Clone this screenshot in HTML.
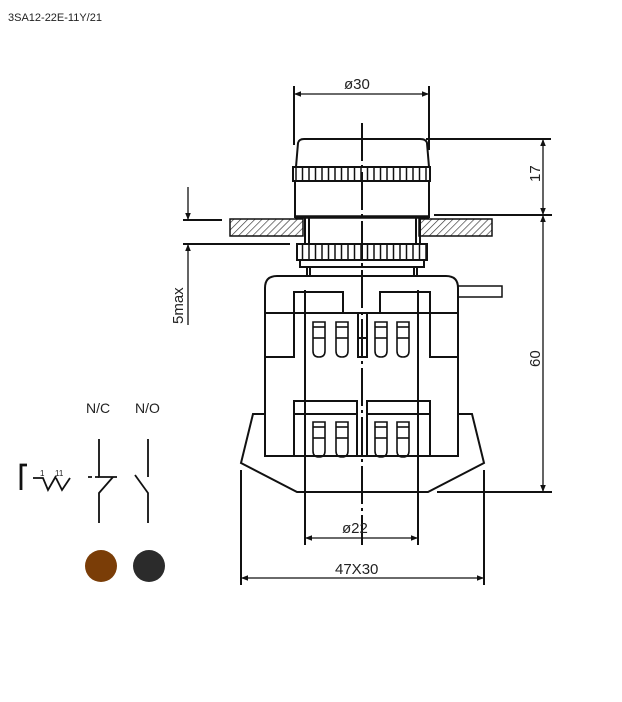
<!DOCTYPE html>
<html><head><meta charset="utf-8"><style>
body{margin:0;background:#fff}
svg{display:block}
text{font-family:"Liberation Sans",sans-serif;fill:#222}
</style></head><body>
<svg width="622" height="702" viewBox="0 0 622 702" xmlns="http://www.w3.org/2000/svg">
<defs>
<pattern id="hatch" width="5" height="5" patternUnits="userSpaceOnUse" patternTransform="rotate(45)">
<line x1="0" y1="0" x2="0" y2="5" stroke="#333" stroke-width="1.3"/>
</pattern>
<pattern id="knurl" x="293" width="6.5" height="20" patternUnits="userSpaceOnUse">
<line x1="3" y1="0" x2="3" y2="20" stroke="#111" stroke-width="1.5"/>
</pattern>
<marker id="ar" viewBox="0 0 10 10" refX="10" refY="5" markerWidth="14" markerHeight="7" orient="auto-start-reverse" markerUnits="userSpaceOnUse">
<path d="M0,1 L10,5 L0,9 z" fill="#111"/>
</marker>
</defs>
<text x="8" y="21" font-size="11">3SA12-22E-11Y/21</text>

<g fill="none" stroke="#111" stroke-width="2">
<path d="M296,167 L298,143 Q299,139 304,139 L420,139 Q426,139 427,143 L429,167"/>
<rect x="293" y="167" width="137" height="14" fill="url(#knurl)"/>
<path d="M295,181 L295,217 L429,217 L429,181"/>
<line x1="295" y1="217" x2="429" y2="217" stroke-width="3.5"/>
<rect x="230" y="219" width="73" height="17" fill="url(#hatch)" stroke-width="1.5"/>
<rect x="419" y="219" width="73" height="17" fill="url(#hatch)" stroke-width="1.5"/>
<line x1="305" y1="217" x2="305" y2="244"/><line x1="309" y1="217" x2="309" y2="244"/>
<line x1="416" y1="217" x2="416" y2="244"/><line x1="420" y1="217" x2="420" y2="244"/>
<rect x="297" y="244" width="130" height="16" fill="url(#knurl)"/>
<rect x="300" y="260" width="124" height="7"/>
<line x1="307" y1="267" x2="307" y2="276"/><line x1="310" y1="267" x2="310" y2="276"/>
<line x1="414" y1="267" x2="414" y2="276"/><line x1="417" y1="267" x2="417" y2="276"/>
<path d="M265,456 L265,288 Q265,276 277,276 L446,276 Q458,276 458,288 L458,456 Z"/>
<line x1="265" y1="313" x2="458" y2="313"/>
<path d="M265,357 L294,357 L294,292 L343,292 L343,313"/>
<path d="M458,357 L430,357 L430,292 L380,292 L380,313"/>
<rect x="458" y="286" width="44" height="11" stroke-width="1.5"/>
<rect x="358" y="313" width="9" height="44"/>
<line x1="358" y1="338" x2="367" y2="338"/>
<rect x="294" y="401" width="63" height="55"/><line x1="294" y1="414" x2="357" y2="414"/>
<rect x="367" y="401" width="63" height="55"/><line x1="367" y1="414" x2="430" y2="414"/>
<path d="M265,414 L253,414 L241,463 L297,492 L428,492 L484,463 L472,414 L458,414"/>
</g>
<g fill="none" stroke="#111" stroke-width="1.6">
<g id="slot"><path d="M313,322 L325,322 L325,351 Q325,357 319,357 Q313,357 313,351 Z"/><line x1="313" y1="327" x2="325" y2="327"/><line x1="313" y1="338" x2="325" y2="338"/></g>
<use href="#slot" x="23"/><use href="#slot" x="62"/><use href="#slot" x="84"/>
<use href="#slot" y="100"/><use href="#slot" x="23" y="100"/><use href="#slot" x="62" y="100"/><use href="#slot" x="84" y="100"/>
</g>
<g stroke="#111" stroke-width="2">
<line x1="305" y1="290" x2="305" y2="545"/>
<line x1="418" y1="290" x2="418" y2="545"/>
<line x1="362" y1="123" x2="362" y2="545" stroke-dasharray="38,4,3,4"/>
<line x1="294" y1="86" x2="294" y2="145"/>
<line x1="429" y1="86" x2="429" y2="150"/>
<line x1="426" y1="139" x2="551" y2="139"/>
<line x1="434" y1="215" x2="552" y2="215"/>
<line x1="437" y1="492" x2="552" y2="492"/>
<line x1="241" y1="470" x2="241" y2="585"/>
<line x1="484" y1="470" x2="484" y2="585"/>
<line x1="183" y1="220" x2="222" y2="220"/>
<line x1="183" y1="244" x2="290" y2="244"/>
</g>
<g stroke="#111" stroke-width="1.3" fill="none">
<line x1="294" y1="94" x2="429" y2="94" marker-start="url(#ar)" marker-end="url(#ar)"/>
<line x1="543" y1="139" x2="543" y2="215" marker-start="url(#ar)" marker-end="url(#ar)"/>
<line x1="543" y1="215" x2="543" y2="492" marker-start="url(#ar)" marker-end="url(#ar)"/>
<line x1="305" y1="538" x2="418" y2="538" marker-start="url(#ar)" marker-end="url(#ar)"/>
<line x1="241" y1="578" x2="484" y2="578" marker-start="url(#ar)" marker-end="url(#ar)"/>
<line x1="188" y1="187" x2="188" y2="220" marker-end="url(#ar)"/>
<line x1="188" y1="325" x2="188" y2="244" marker-end="url(#ar)"/>
</g>
<text x="344" y="89" font-size="15">ø30</text>
<text x="342" y="533" font-size="15">ø22</text>
<text x="335" y="574" font-size="15">47X30</text>
<text transform="translate(540,182) rotate(-90)" font-size="15">17</text>
<text transform="translate(540,367) rotate(-90)" font-size="15">60</text>
<text transform="translate(183,324) rotate(-90)" font-size="15">5max</text>

<text x="86" y="413" font-size="14">N/C</text>
<text x="135" y="413" font-size="14">N/O</text>
<g stroke="#111" stroke-width="1.8" fill="none">
<path d="M99,439 L99,477 L117,477"/>
<path d="M88,477 L92,477 M95,477 L99,477"/>
<path d="M113,477 L99,493 L99,523"/>
<path d="M148,439 L148,477"/>
<path d="M135,475 L148,493 L148,523"/>
<path d="M21,490 L21,465 L27,465" stroke-width="2.8"/>
<path d="M33,478 L43,478 L48,490 L56,476 M56,478 L62,490 L70,478"/>
</g>
<text x="40" y="476" font-size="8">1</text>
<text x="55" y="476" font-size="8">11</text>
<circle cx="101" cy="566" r="16" fill="#7a3d07"/>
<circle cx="149" cy="566" r="16" fill="#2b2b2b"/>
</svg>
</body></html>
